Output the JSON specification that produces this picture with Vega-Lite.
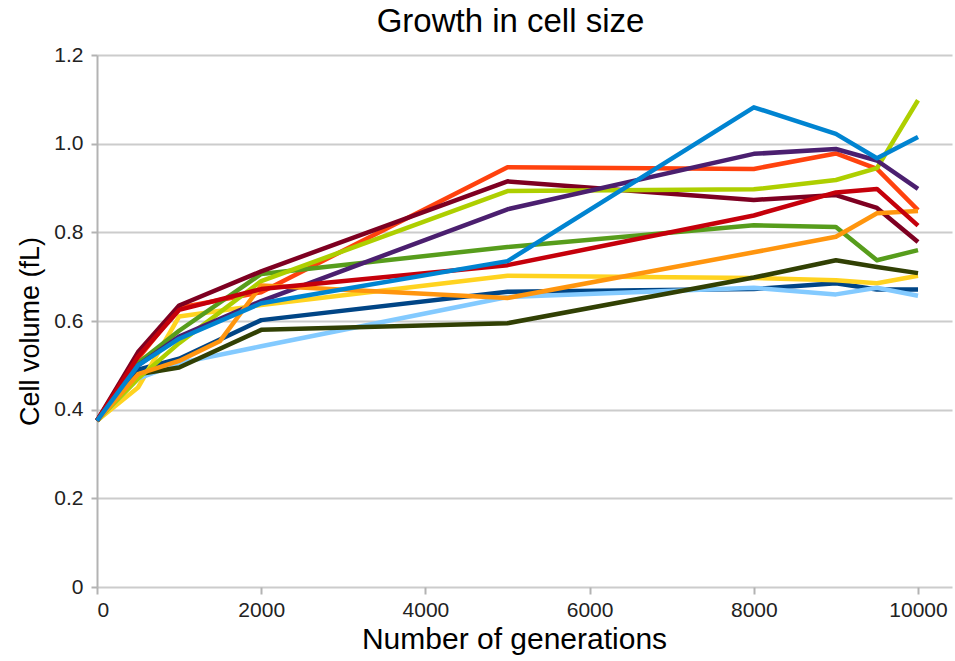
{
  "$schema": "https://vega.github.io/schema/vega-lite/v6.json",
  "width": 855,
  "height": 532,
  "autosize": {"type": "none"},
  "padding": {"left": 97, "top": 55, "right": 3, "bottom": 74},
  "background": "white",
  "title": {
    "text": "Growth in cell size",
    "font": "Liberation Sans",
    "fontSize": 33,
    "fontWeight": "normal",
    "color": "#000000",
    "anchor": "middle",
    "frame": "group",
    "baseline": "bottom",
    "offset": 12,
    "dx": -14,
    "dy": 40
  },
  "config": {
    "view": {"stroke": null},
    "font": "Liberation Sans"
  },
  "datasets": {
    "cells": [
      {"s": "s01", "g": 0, "v": 0.375}, {"s": "s01", "g": 500, "v": 0.49}, {"s": "s01", "g": 1000, "v": 0.515}, {"s": "s01", "g": 2000, "v": 0.602}, {"s": "s01", "g": 5000, "v": 0.666}, {"s": "s01", "g": 8000, "v": 0.672}, {"s": "s01", "g": 9000, "v": 0.685}, {"s": "s01", "g": 9500, "v": 0.671}, {"s": "s01", "g": 10000, "v": 0.671},
      {"s": "s02", "g": 0, "v": 0.375}, {"s": "s02", "g": 500, "v": 0.515}, {"s": "s02", "g": 1000, "v": 0.63}, {"s": "s02", "g": 2000, "v": 0.665}, {"s": "s02", "g": 5000, "v": 0.947}, {"s": "s02", "g": 8000, "v": 0.943}, {"s": "s02", "g": 9000, "v": 0.978}, {"s": "s02", "g": 9500, "v": 0.943}, {"s": "s02", "g": 10000, "v": 0.85},
      {"s": "s03", "g": 0, "v": 0.375}, {"s": "s03", "g": 500, "v": 0.45}, {"s": "s03", "g": 1000, "v": 0.61}, {"s": "s03", "g": 2000, "v": 0.636}, {"s": "s03", "g": 5000, "v": 0.702}, {"s": "s03", "g": 8000, "v": 0.697}, {"s": "s03", "g": 9000, "v": 0.692}, {"s": "s03", "g": 9500, "v": 0.685}, {"s": "s03", "g": 10000, "v": 0.702},
      {"s": "s04", "g": 0, "v": 0.375}, {"s": "s04", "g": 500, "v": 0.505}, {"s": "s04", "g": 1000, "v": 0.578}, {"s": "s04", "g": 2000, "v": 0.706}, {"s": "s04", "g": 5000, "v": 0.767}, {"s": "s04", "g": 8000, "v": 0.816}, {"s": "s04", "g": 9000, "v": 0.812}, {"s": "s04", "g": 9500, "v": 0.737}, {"s": "s04", "g": 10000, "v": 0.76},
      {"s": "s05", "g": 0, "v": 0.375}, {"s": "s05", "g": 500, "v": 0.53}, {"s": "s05", "g": 1000, "v": 0.635}, {"s": "s05", "g": 2000, "v": 0.712}, {"s": "s05", "g": 5000, "v": 0.915}, {"s": "s05", "g": 8000, "v": 0.873}, {"s": "s05", "g": 9000, "v": 0.884}, {"s": "s05", "g": 9500, "v": 0.855}, {"s": "s05", "g": 10000, "v": 0.778},
      {"s": "s06", "g": 0, "v": 0.375}, {"s": "s06", "g": 500, "v": 0.47}, {"s": "s06", "g": 1000, "v": 0.505}, {"s": "s06", "g": 2000, "v": 0.543}, {"s": "s06", "g": 5000, "v": 0.654}, {"s": "s06", "g": 8000, "v": 0.675}, {"s": "s06", "g": 9000, "v": 0.66}, {"s": "s06", "g": 9500, "v": 0.675}, {"s": "s06", "g": 10000, "v": 0.657},
      {"s": "s07", "g": 0, "v": 0.375}, {"s": "s07", "g": 500, "v": 0.48}, {"s": "s07", "g": 1000, "v": 0.495}, {"s": "s07", "g": 2000, "v": 0.58}, {"s": "s07", "g": 5000, "v": 0.595}, {"s": "s07", "g": 8000, "v": 0.698}, {"s": "s07", "g": 9000, "v": 0.737}, {"s": "s07", "g": 9500, "v": 0.722}, {"s": "s07", "g": 10000, "v": 0.708},
      {"s": "s08", "g": 0, "v": 0.375}, {"s": "s08", "g": 500, "v": 0.47}, {"s": "s08", "g": 1000, "v": 0.55}, {"s": "s08", "g": 2000, "v": 0.69}, {"s": "s08", "g": 5000, "v": 0.893}, {"s": "s08", "g": 8000, "v": 0.897}, {"s": "s08", "g": 9000, "v": 0.918}, {"s": "s08", "g": 9500, "v": 0.945}, {"s": "s08", "g": 10000, "v": 1.098},
      {"s": "s09", "g": 0, "v": 0.375}, {"s": "s09", "g": 500, "v": 0.5}, {"s": "s09", "g": 1000, "v": 0.565}, {"s": "s09", "g": 2000, "v": 0.645}, {"s": "s09", "g": 5000, "v": 0.852}, {"s": "s09", "g": 8000, "v": 0.977}, {"s": "s09", "g": 9000, "v": 0.988}, {"s": "s09", "g": 9500, "v": 0.962}, {"s": "s09", "g": 10000, "v": 0.898},
      {"s": "s10", "g": 0, "v": 0.375}, {"s": "s10", "g": 500, "v": 0.48}, {"s": "s10", "g": 1000, "v": 0.51}, {"s": "s10", "g": 1500, "v": 0.555}, {"s": "s10", "g": 2000, "v": 0.68}, {"s": "s10", "g": 5000, "v": 0.652}, {"s": "s10", "g": 8000, "v": 0.755}, {"s": "s10", "g": 9000, "v": 0.79}, {"s": "s10", "g": 9500, "v": 0.843}, {"s": "s10", "g": 10000, "v": 0.848},
      {"s": "s11", "g": 0, "v": 0.375}, {"s": "s11", "g": 500, "v": 0.52}, {"s": "s11", "g": 1000, "v": 0.625}, {"s": "s11", "g": 2000, "v": 0.672}, {"s": "s11", "g": 5000, "v": 0.726}, {"s": "s11", "g": 8000, "v": 0.838}, {"s": "s11", "g": 9000, "v": 0.89}, {"s": "s11", "g": 9500, "v": 0.898}, {"s": "s11", "g": 10000, "v": 0.815},
      {"s": "s12", "g": 0, "v": 0.375}, {"s": "s12", "g": 500, "v": 0.5}, {"s": "s12", "g": 1000, "v": 0.56}, {"s": "s12", "g": 2000, "v": 0.64}, {"s": "s12", "g": 5000, "v": 0.735}, {"s": "s12", "g": 8000, "v": 1.082}, {"s": "s12", "g": 9000, "v": 1.022}, {"s": "s12", "g": 9500, "v": 0.967}, {"s": "s12", "g": 10000, "v": 1.015}
    ]
  },
  "data": {"name": "cells"},
  "mark": {"type": "line", "strokeWidth": 4.5, "strokeJoin": "round", "clip": false},
  "encoding": {
    "x": {
      "field": "g",
      "type": "quantitative",
      "scale": {"domain": [0, 10414], "nice": false, "zero": false},
      "axis": {
        "values": [0, 2000, 4000, 6000, 8000, 10000],
        "format": "d",
        "grid": false,
        "domain": false,
        "tickColor": "#b3b3b3",
        "tickWidth": 2,
        "tickSize": 7,
        "labelFont": "Liberation Sans",
        "labelFontSize": 21,
        "labelColor": "#222222",
        "labelPadding": 5,
        "title": "Number of generations",
        "titleFont": "Liberation Sans",
        "titleFontSize": 30,
        "titleFontWeight": "normal",
        "titleColor": "#000000",
        "titleX": 417,
        "titlePadding": 4
      }
    },
    "y": {
      "field": "v",
      "type": "quantitative",
      "scale": {"domain": [0, 1.2], "nice": false},
      "axis": {
        "values": [0, 0.2, 0.4, 0.6, 0.8, 1.0, 1.2],
        "labelExpr": "datum.value == 0 ? '0' : format(datum.value, '.1f')",
        "grid": true,
        "gridColor": "#cccccc",
        "gridWidth": 2,
        "domainColor": "#b3b3b3",
        "domainWidth": 2,
        "tickColor": "#b3b3b3",
        "tickWidth": 2,
        "tickSize": 6,
        "labelFont": "Liberation Sans",
        "labelFontSize": 21,
        "labelColor": "#222222",
        "labelPadding": 8,
        "title": "Cell volume (fL)",
        "titleFont": "Liberation Sans",
        "titleFontSize": 27,
        "titleFontWeight": "normal",
        "titleColor": "#000000",
        "titleX": -67,
        "titleY": 276,
        "titleBaseline": "middle",
        "titleAngle": -90
      }
    },
    "color": {
      "field": "s",
      "type": "nominal",
      "legend": null,
      "scale": {
        "domain": ["s01", "s02", "s03", "s04", "s05", "s06", "s07", "s08", "s09", "s10", "s11", "s12"],
        "range": ["#004586", "#ff420e", "#ffd320", "#579d1c", "#7e0021", "#83caff", "#314004", "#aecf00", "#4b1f6f", "#ff950e", "#c5000b", "#0084d1"]
      }
    },
    "order": {"field": "g", "type": "quantitative"}
  }
}
